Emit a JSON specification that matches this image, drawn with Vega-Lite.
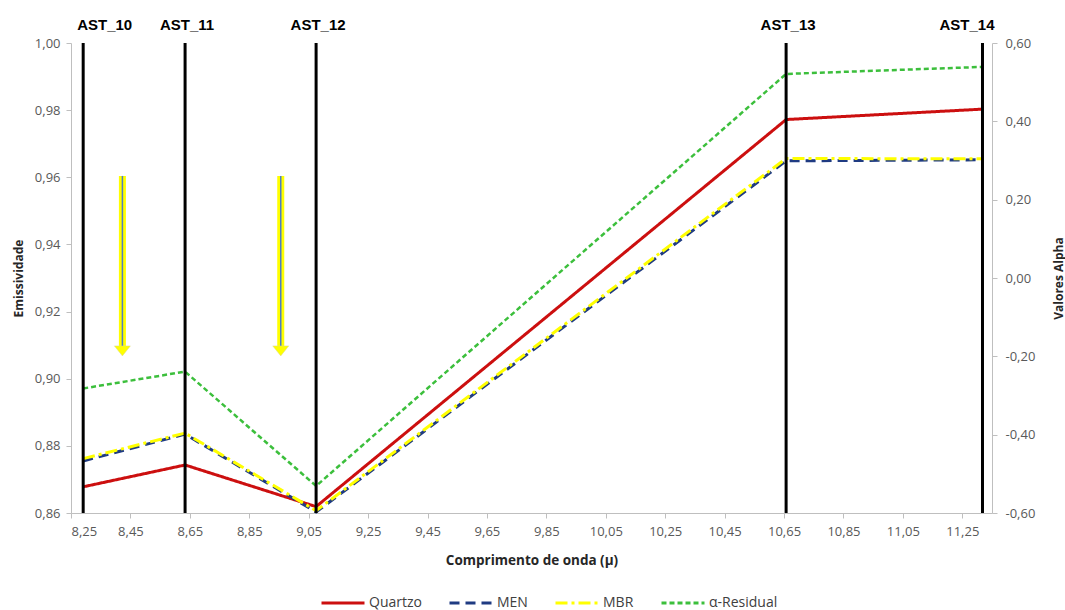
{
  "$schema": "https://vega.github.io/schema/vega-lite/v6.json",
  "width": 921,
  "height": 470,
  "autosize": {"type": "none"},
  "padding": {"left": 71, "top": 43, "right": 73, "bottom": 97},
  "background": "white",
  "config": {
    "view": {"stroke": null},
    "axis": {
      "grid": false,
      "domainColor": "#bfbfbf",
      "tickColor": "#bfbfbf",
      "tickSize": 5,
      "labelColor": "#595959",
      "labelFont": "Open Sans",
      "labelFontSize": 13,
      "titleFont": "Open Sans",
      "titleFontSize": 12,
      "titleFontWeight": "bold",
      "titleColor": "#262626"
    },
    "legend": {
      "symbolType": "stroke",
      "symbolSize": 1849,
      "symbolStrokeWidth": 3,
      "labelFont": "Open Sans",
      "labelFontSize": 14,
      "labelColor": "#404040",
      "columnPadding": 21,
      "labelOffset": 3
    }
  },
  "datasets": {
    "emis": [
      {"wl": 8.291, "series": "Quartzo", "value": 0.8678},
      {"wl": 8.634, "series": "Quartzo", "value": 0.8743},
      {"wl": 9.075, "series": "Quartzo", "value": 0.8619},
      {"wl": 10.657, "series": "Quartzo", "value": 0.9772},
      {"wl": 11.318, "series": "Quartzo", "value": 0.9803},
      {"wl": 8.291, "series": "MEN", "value": 0.8755},
      {"wl": 8.634, "series": "MEN", "value": 0.8835},
      {"wl": 9.075, "series": "MEN", "value": 0.8603},
      {"wl": 10.657, "series": "MEN", "value": 0.9649},
      {"wl": 11.318, "series": "MEN", "value": 0.9652},
      {"wl": 8.291, "series": "MBR", "value": 0.8762},
      {"wl": 8.634, "series": "MBR", "value": 0.8838},
      {"wl": 9.075, "series": "MBR", "value": 0.8607},
      {"wl": 10.657, "series": "MBR", "value": 0.9656},
      {"wl": 11.318, "series": "MBR", "value": 0.9655}
    ],
    "alpha": [
      {"wl": 8.291, "series": "α-Residual", "value": -0.282},
      {"wl": 8.634, "series": "α-Residual", "value": -0.239},
      {"wl": 9.075, "series": "α-Residual", "value": -0.531},
      {"wl": 10.657, "series": "α-Residual", "value": 0.521},
      {"wl": 11.318, "series": "α-Residual", "value": 0.539}
    ],
    "bands": [
      {"band": "AST_10", "wl": 8.291},
      {"band": "AST_11", "wl": 8.634},
      {"band": "AST_12", "wl": 9.075},
      {"band": "AST_13", "wl": 10.657},
      {"band": "AST_14", "wl": 11.318}
    ],
    "arrows": [
      {"ax": 8.423, "ytop": 0.9604, "yneck": 0.9097, "ybot": 0.9068},
      {"ax": 8.956, "ytop": 0.9604, "yneck": 0.9097, "ybot": 0.9068}
    ]
  },
  "layer": [
    {
      "layer": [
        {
          "data": {"name": "emis"},
          "mark": {"type": "line", "strokeWidth": 3},
          "encoding": {
            "x": {
              "field": "wl", "type": "quantitative",
              "scale": {"domain": [8.25, 11.35], "nice": false, "zero": false},
              "axis": {
                "title": "Comprimento de onda (μ)",
                "titleFontSize": 13.5,
                "values": [8.25, 8.45, 8.65, 8.85, 9.05, 9.25, 9.45, 9.65, 9.85, 10.05, 10.25, 10.45, 10.65, 10.85, 11.05, 11.25],
                "labelExpr": "replace(format(datum.value, '.2f'), '.', ',')",
                "labelPadding": 7,
                "titleBaseline": "middle",
                "titleY": 47
              }
            },
            "y": {
              "field": "value", "type": "quantitative",
              "scale": {"domain": [0.86, 1.0], "nice": false, "zero": false},
              "axis": {
                "title": "Emissividade",
                "values": [0.86, 0.88, 0.9, 0.92, 0.94, 0.96, 0.98, 1.0],
                "labelExpr": "replace(format(datum.value, '.2f'), '.', ',')",
                "labelPadding": 6,
                "titleBaseline": "middle",
                "titleX": -53
              }
            },
            "color": {
              "field": "series", "type": "nominal",
              "scale": {"domain": ["Quartzo", "MEN", "MBR", "α-Residual"], "range": ["#cc0f0f", "#1f3b82", "#ffff00", "#3cbf3c"]},
              "legend": {"orient": "none", "legendX": 249, "legendY": 537, "direction": "horizontal", "title": null}
            },
            "strokeDash": {
              "field": "series", "type": "nominal",
              "scale": {"domain": ["Quartzo", "MEN", "MBR", "α-Residual"], "range": [[1, 0], [10, 6], [12, 4, 3, 4], [5, 3]]},
              "legend": {"orient": "none", "legendX": 249, "legendY": 537, "direction": "horizontal", "title": null}
            }
          }
        },
        {
          "data": {"name": "arrows"},
          "mark": {"type": "rule", "color": "#ffff00", "strokeWidth": 7},
          "encoding": {
            "x": {"field": "ax", "type": "quantitative"},
            "y": {"field": "ytop", "type": "quantitative"},
            "y2": {"field": "yneck"}
          }
        },
        {
          "data": {"name": "arrows"},
          "mark": {"type": "rule", "color": "#4f7fc4", "strokeWidth": 1.5},
          "encoding": {
            "x": {"field": "ax", "type": "quantitative"},
            "y": {"field": "ytop", "type": "quantitative"},
            "y2": {"field": "yneck"}
          }
        },
        {
          "data": {"name": "arrows"},
          "mark": {"type": "point", "shape": "M-1,-1.25L1,-1.25L0,0Z", "filled": true, "fill": "#ffff00", "stroke": "#d9d9a0", "strokeWidth": 0.5, "size": 256, "opacity": 1},
          "encoding": {
            "x": {"field": "ax", "type": "quantitative"},
            "y": {"field": "ybot", "type": "quantitative"}
          }
        }
      ]
    },
    {
      "layer": [
        {
          "data": {"name": "alpha"},
          "mark": {"type": "line", "strokeWidth": 2.5},
          "encoding": {
            "x": {"field": "wl", "type": "quantitative"},
            "y": {
              "field": "value", "type": "quantitative",
              "scale": {"domain": [-0.6, 0.6], "nice": false, "zero": false},
              "axis": {
                "orient": "right",
                "title": "Valores Alpha",
                "values": [-0.6, -0.4, -0.2, 0, 0.2, 0.4, 0.6],
                "labelExpr": "replace(replace(format(datum.value, '.2f'), '.', ','), '−', '-')",
                "labelPadding": 8,
                "titleAngle": -90,
                "titleBaseline": "middle",
                "titleX": 66
              }
            },
            "color": {
              "field": "series", "type": "nominal",
              "scale": {"domain": ["Quartzo", "MEN", "MBR", "α-Residual"], "range": ["#cc0f0f", "#1f3b82", "#ffff00", "#3cbf3c"]},
              "legend": {"orient": "none", "legendX": 249, "legendY": 537, "direction": "horizontal", "title": null}
            },
            "strokeDash": {
              "field": "series", "type": "nominal",
              "scale": {"domain": ["Quartzo", "MEN", "MBR", "α-Residual"], "range": [[1, 0], [10, 6], [12, 4, 3, 4], [5, 3]]},
              "legend": {"orient": "none", "legendX": 249, "legendY": 537, "direction": "horizontal", "title": null}
            }
          }
        },
        {
          "data": {"name": "bands"},
          "mark": {"type": "rule", "color": "#000000", "strokeWidth": 3},
          "encoding": {
            "x": {"field": "wl", "type": "quantitative"}
          }
        },
        {
          "data": {"name": "bands"},
          "transform": [{"filter": "datum.band === 'AST_10'"}],
          "mark": {"type": "text", "font": "Liberation Sans", "fontWeight": "bold", "fontSize": 15, "color": "#000000", "align": "left", "baseline": "middle", "dx": -6, "dy": -18},
          "encoding": {
            "x": {"field": "wl", "type": "quantitative"},
            "y": {"datum": 0.6, "type": "quantitative"},
            "text": {"field": "band"}
          }
        },
        {
          "data": {"name": "bands"},
          "transform": [{"filter": "datum.band !== 'AST_10' && datum.band !== 'AST_14'"}],
          "mark": {"type": "text", "font": "Liberation Sans", "fontWeight": "bold", "fontSize": 15, "color": "#000000", "align": "center", "baseline": "middle", "dx": 2, "dy": -18},
          "encoding": {
            "x": {"field": "wl", "type": "quantitative"},
            "y": {"datum": 0.6, "type": "quantitative"},
            "text": {"field": "band"}
          }
        },
        {
          "data": {"name": "bands"},
          "transform": [{"filter": "datum.band === 'AST_14'"}],
          "mark": {"type": "text", "font": "Liberation Sans", "fontWeight": "bold", "fontSize": 15, "color": "#000000", "align": "right", "baseline": "middle", "dx": 12, "dy": -18},
          "encoding": {
            "x": {"field": "wl", "type": "quantitative"},
            "y": {"datum": 0.6, "type": "quantitative"},
            "text": {"field": "band"}
          }
        }
      ]
    }
  ],
  "resolve": {"scale": {"y": "independent"}, "axis": {"y": "independent"}}
}
